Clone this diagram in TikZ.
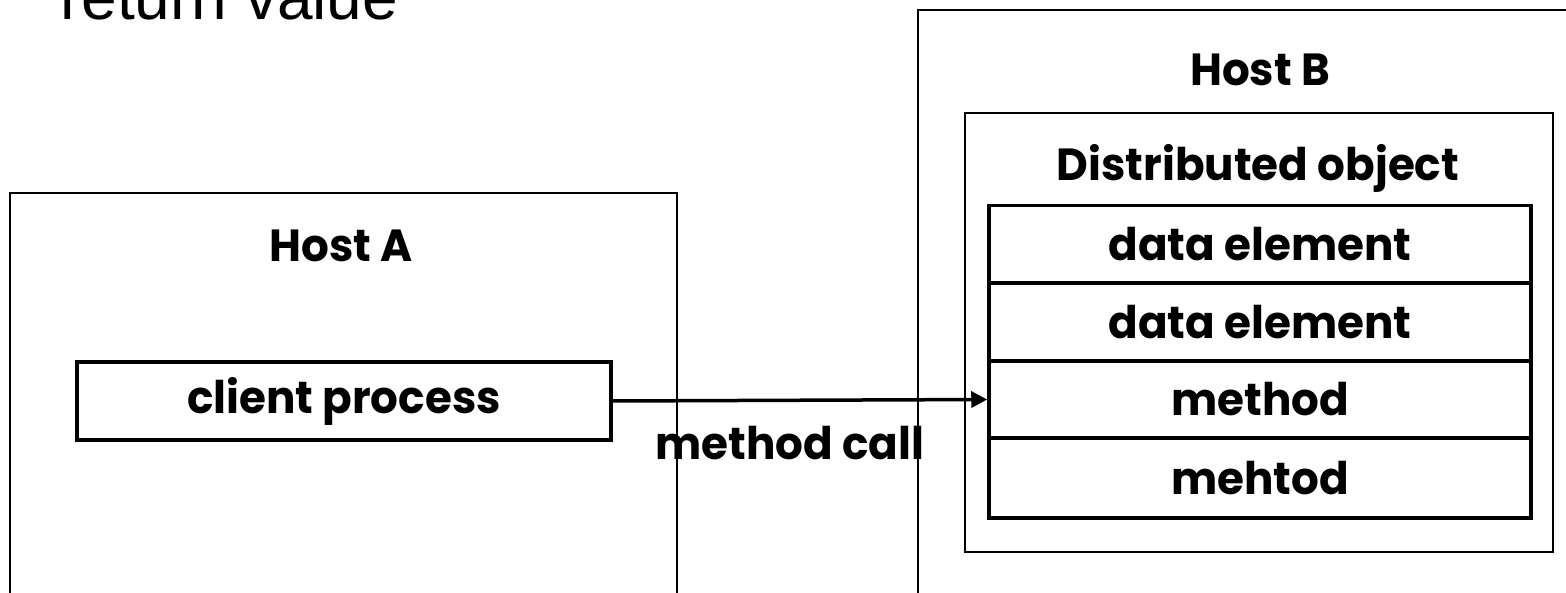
\documentclass[tikz,border=0pt]{standalone}
\usepackage{fontspec}
\setmainfont[FakeStretch=0.97]{Poppins}
\newfontfamily\arialfont{Liberation Sans}
\usetikzlibrary{arrows.meta}
\tikzset{
  hostbox/.style={draw=black, line width=1.6pt, rectangle, inner sep=0pt},
  thickbox/.style={draw=black, line width=3.5pt, rectangle, inner sep=0pt},
  lbl/.style={font=\fontsize{45}{47}\selectfont\bfseries, inner sep=0pt},
  conn/.style={line width=3.5pt, -{Triangle[length=16pt,width=16pt]}}
}
\begin{document}
\begin{tikzpicture}[x=1pt,y=-1pt]
\clip (0,0) rectangle (1566,593);
\fill[white] (0,0) rectangle (1566,593);
% Host A
\node[hostbox, minimum width=667pt, minimum height=507pt] (hostA) at (343.5,446.5) {};
\node[lbl] (hostAlbl) at (341,246) {Host A};
\node[thickbox, minimum width=534pt, minimum height=78pt] (client) at (344,401) {};
\node[lbl] (clientlbl) at (344,401) {client process};
% Host B
\node[hostbox, minimum width=700pt, minimum height=700pt] (hostB) at (1268,360) {};
\node[lbl] (hostBlbl) at (1260,70) {Host B};
\node[hostbox, minimum width=588pt, minimum height=439pt] (dobj) at (1259,332.5) {};
\node[lbl] (dobjlbl) at (1258,168) {Distributed object};
\node[thickbox, minimum width=542pt, minimum height=77.5pt] (r1) at (1260,244.5) {};
\node[thickbox, minimum width=542pt, minimum height=78pt] (r2) at (1260,322) {};
\node[thickbox, minimum width=542pt, minimum height=77pt] (r3) at (1260,399.5) {};
\node[thickbox, minimum width=542pt, minimum height=80pt] (r4) at (1260,478) {};
\node[lbl] (r1l) at (1260,244.5) {data element};
\node[lbl] (r2l) at (1260,322) {data element};
\node[lbl] (r3l) at (1260,399.5) {method};
\node[lbl] (r4l) at (1260,478) {mehtod};
% arrow
\draw[conn] (client.east) -- (r3.west);
\node[lbl] (mcall) at (790,443) {method call};
% return value
\node[font=\arialfont\fontsize{64}{66}\selectfont, inner sep=0pt, anchor=base west] (ret) at (60,20) {return value};
\end{tikzpicture}
\end{document}
